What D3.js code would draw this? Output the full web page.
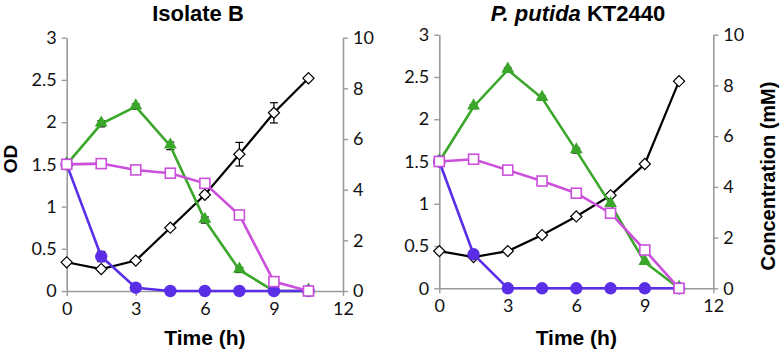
<!DOCTYPE html>
<html>
<head>
<meta charset="utf-8">
<script src="https://cdn.jsdelivr.net/npm/d3@7"></script>
<style>
  body { margin: 0; background: #fff; }
  svg { display: block; }
  .tick text { font-family: Lato, 'Open Sans', sans-serif; font-size: 18px; fill: #111; }
  .axis-name { font-family: 'Liberation Sans', Arial, sans-serif; font-weight: bold; fill: #000; }
</style>
</head>
<body>
<div id="chart"></div>
<script>
// Data
const hours = [0, 1.5, 3, 4.5, 6, 7.5, 9, 10.5];
const timeTicks = [0, 3, 6, 9, 12];
const odTicks = [0, 0.5, 1, 1.5, 2, 2.5, 3];
const concTicks = [0, 2, 4, 6, 8, 10];

// Isolate B
const isoDiamondOD = [0.34, 0.26, 0.36, 0.75, 1.14, 1.62, 2.11, 2.52];
const isoDiamondErr = [0, 0.02, 0, 0, 0.03, 0.14, 0.12, 0];
const isoTriangle = [5.0, 6.6, 7.28, 5.73, 2.8, 0.83, 0, 0];
const isoTriangleErr = [0, 0.12, 0.1, 0.15, 0.12, 0.1, 0, 0];
const isoSquare = [5.0, 5.03, 4.78, 4.65, 4.25, 3.0, 0.37, 0];
const isoCircle = [5.0, 1.36, 0.13, 0, 0, 0, 0, 0];
const isoCircleErr = [0, 0.2, 0, 0, 0, 0, 0, 0];

// P. putida KT2440
const kt2440DiamondOD = [0.44, 0.37, 0.44, 0.63, 0.85, 1.1, 1.47, 2.45];
const kt2440DiamondErr = [0, 0, 0, 0, 0, 0, 0, 0];
const kt2440Triangle = [5.0, 7.16, 8.61, 7.5, 5.43, 3.31, 1.03, 0];
const kt2440TriangleErr = [0, 0.08, 0.08, 0.08, 0.1, 0, 0, 0];
const kt2440Square = [5.0, 5.09, 4.66, 4.23, 3.75, 2.96, 1.51, 0];
const kt2440Circle = [5.0, 1.34, 0, 0, 0, 0, 0, 0];
const kt2440CircleErr = [0, 0, 0, 0, 0, 0, 0, 0];

const width = 780;
const height = 350;

const svg = d3
  .select('#chart')
  .append('svg')
  .attr('width', width)
  .attr('height', height);

const colors = { green: '#3aa72a', magenta: '#cc4fdc', purple: '#5a2ee6', black: '#000' };
const axisGray = '#9a9a9a';

const panels = [
  {
    title: 'Isolate B', italic: null, titleX: 198,
    x0: 66.7, x1: 343, y0: 291, y1: 37.7,
    od: isoDiamondOD, odErr: isoDiamondErr,
    tri: isoTriangle, triErr: isoTriangleErr,
    sq: isoSquare, circ: isoCircle, circErr: isoCircleErr,
    leftLabel: true, rightLabel: false,
  },
  {
    title: ' KT2440', italic: 'P. putida', titleX: 578,
    x0: 439.3, x1: 713.3, y0: 288.3, y1: 34.7,
    od: kt2440DiamondOD, odErr: kt2440DiamondErr,
    tri: kt2440Triangle, triErr: kt2440TriangleErr,
    sq: kt2440Square, circ: kt2440Circle, circErr: kt2440CircleErr,
    leftLabel: false, rightLabel: true,
  },
];

panels.forEach((p) => {
  const g = svg.append('g');

  const x = d3.scaleLinear([0, 12], [p.x0, p.x1]);
  const yOD = d3.scaleLinear([0, 3], [p.y0, p.y1]);
  const yC = d3.scaleLinear([0, 10], [p.y0, p.y1]);

  // axes
  const styleAxis = (sel) => {
    sel.select('.domain').attr('stroke', axisGray).attr('stroke-width', 1.6);
    sel.selectAll('.tick line').attr('stroke', axisGray).attr('stroke-width', 1.4);
  };

  g.append('g')
    .attr('transform', `translate(0, ${p.y0})`)
    .call(d3.axisBottom(x).tickValues(timeTicks).tickSize(5).tickSizeOuter(0).tickPadding(6))
    .call(styleAxis);

  g.append('g')
    .attr('transform', `translate(${p.x0}, 0)`)
    .call(d3.axisLeft(yOD).tickValues(odTicks).tickFormat((d) => `${d}`).tickSize(5).tickSizeOuter(0).tickPadding(5))
    .call(styleAxis);

  g.append('g')
    .attr('transform', `translate(${p.x1}, 0)`)
    .call(d3.axisRight(yC).tickValues(concTicks).tickSize(5).tickSizeOuter(0).tickPadding(5))
    .call(styleAxis);

  const lineOD = d3.line().x((d, i) => x(hours[i])).y((d) => yOD(d));
  const lineC = d3.line().x((d, i) => x(hours[i])).y((d) => yC(d));

  const errorBars = (vals, errs, yScale) => {
    const eg = g.append('g').attr('stroke', '#000').attr('stroke-width', 1.2);
    vals.forEach((v, i) => {
      if (!errs[i]) return;
      const cx = x(hours[i]);
      eg.append('line').attr('x1', cx).attr('x2', cx).attr('y1', yScale(v - errs[i])).attr('y2', yScale(v + errs[i]));
      [v - errs[i], v + errs[i]].forEach((e) => {
        eg.append('line').attr('x1', cx - 4).attr('x2', cx + 4).attr('y1', yScale(e)).attr('y2', yScale(e));
      });
    });
  };

  // black diamonds (OD)
  errorBars(p.od, p.odErr, yOD);
  g.append('path').datum(p.od).attr('d', lineOD).attr('fill', 'none')
    .attr('stroke', colors.black).attr('stroke-width', 2.2);
  g.append('g').selectAll('path').data(p.od).join('path')
    .attr('d', d3.symbol(d3.symbolSquare, 62))
    .attr('transform', (d, i) => `translate(${x(hours[i])}, ${yOD(d)}) rotate(45)`)
    .attr('fill', '#fff').attr('stroke', '#000').attr('stroke-width', 1.2);

  // green triangles
  errorBars(p.tri, p.triErr, yC);
  g.append('path').datum(p.tri).attr('d', lineC).attr('fill', 'none')
    .attr('stroke', colors.green).attr('stroke-width', 2.6);
  g.append('g').selectAll('path').data(p.tri).join('path')
    .attr('d', d3.symbol(d3.symbolTriangle, 72))
    .attr('transform', (d, i) => `translate(${x(hours[i])}, ${yC(d) - 1})`)
    .attr('fill', colors.green);

  // purple circles
  errorBars(p.circ, p.circErr, yC);
  g.append('path').datum(p.circ).attr('d', lineC).attr('fill', 'none')
    .attr('stroke', colors.purple).attr('stroke-width', 2.6);
  g.append('g').selectAll('circle').data(p.circ).join('circle')
    .attr('cx', (d, i) => x(hours[i]))
    .attr('cy', (d) => yC(d))
    .attr('r', 6.2)
    .attr('fill', colors.purple);

  // magenta squares
  g.append('path').datum(p.sq).attr('d', lineC).attr('fill', 'none')
    .attr('stroke', colors.magenta).attr('stroke-width', 2.6);
  g.append('g').selectAll('rect').data(p.sq).join('rect')
    .attr('x', (d, i) => x(hours[i]) - 5)
    .attr('y', (d) => yC(d) - 5)
    .attr('width', 10)
    .attr('height', 10)
    .attr('fill', '#fff').attr('stroke', colors.magenta).attr('stroke-width', 1.6);

  // title
  const title = g.append('text')
    .attr('class', 'axis-name')
    .attr('x', p.titleX)
    .attr('y', 21)
    .attr('text-anchor', 'middle')
    .style('font-size', '22px');
  if (p.italic) title.append('tspan').style('font-style', 'italic').text(p.italic);
  title.append('tspan').text(p.title);

  // x-axis name
  g.append('text')
    .attr('class', 'axis-name')
    .attr('x', (p.x0 + p.x1) / 2)
    .attr('y', 345)
    .attr('text-anchor', 'middle')
    .style('font-size', '21px')
    .text('Time (h)');

  if (p.leftLabel) {
    g.append('text')
      .attr('class', 'axis-name')
      .attr('transform', `translate(17, 159) rotate(-90)`)
      .attr('text-anchor', 'middle')
      .style('font-size', '19px')
      .text('OD');
  }
  if (p.rightLabel) {
    g.append('text')
      .attr('class', 'axis-name')
      .attr('transform', `translate(775, 176) rotate(-90)`)
      .attr('text-anchor', 'middle')
      .style('font-size', '20px')
      .text('Concentration (mM)');
  }
});
</script>
</body>
</html>
